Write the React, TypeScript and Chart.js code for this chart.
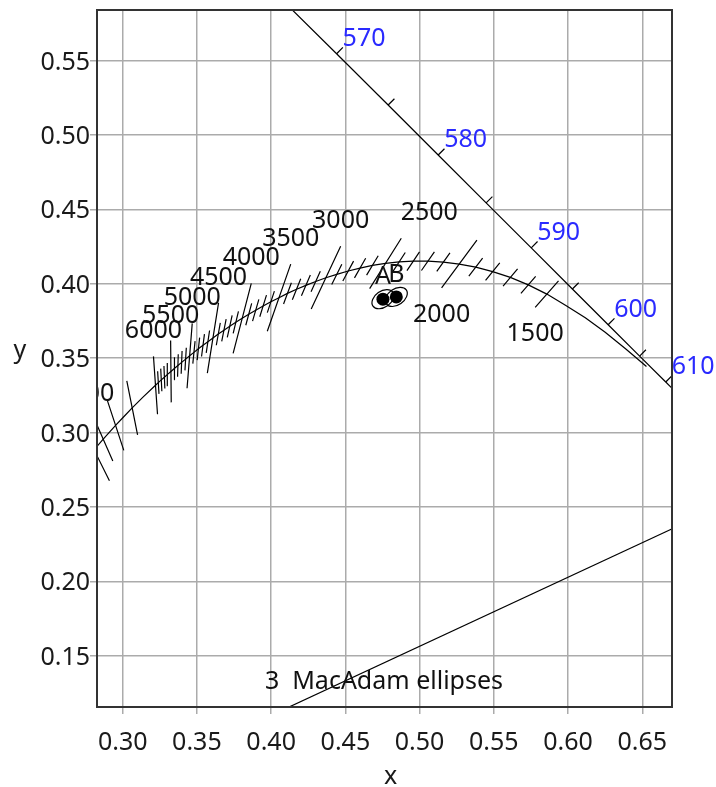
import React, { useEffect, useRef } from 'react';
import { Chart, registerables } from 'chart.js';

Chart.register(...registerables);

// ---------- axis ranges ----------
const X_MIN = 0.2827;
const X_MAX = 0.67;
const Y_MIN = 0.1155;
const Y_MAX = 0.5841;

// ---------- spectral locus (CIE 1931) ----------
const SPECTRAL_NM = [555, 560, 565, 570, 575, 580, 585, 590, 595, 600, 605, 610, 615, 620];
const SPECTRAL_X = [0.3373, 0.3731, 0.4087, 0.4441, 0.4788, 0.5125, 0.5448, 0.5752, 0.6029, 0.6270, 0.6482, 0.6658, 0.6801, 0.6915];
const SPECTRAL_Y = [0.6589, 0.6245, 0.5896, 0.5547, 0.5202, 0.4866, 0.4544, 0.4242, 0.3965, 0.3725, 0.3514, 0.3340, 0.3197, 0.3083];
const TICK_NM = [570, 575, 580, 585, 590, 595, 600, 605, 610];
const LABEL_NM = [570, 580, 590, 600, 610];

// line of purples end points
const PURPLE_X = [0.1741, 0.7347];
const PURPLE_Y = [0.0050, 0.2653];

// ---------- Planckian locus ----------
const PLANCK_T = [1000, 1100, 1200, 1300, 1400, 1500, 1600, 1700, 1800, 1900, 2000, 2100, 2200, 2300, 2400, 2500, 2600, 2700, 2800, 2900, 3000, 3100, 3200, 3300, 3400, 3500, 3600, 3700, 3800, 3900, 4000, 4100, 4200, 4300, 4400, 4500, 4600, 4700, 4800, 4900, 5000, 5100, 5200, 5300, 5400, 5500, 5600, 5700, 5800, 5900, 6000, 6500, 7000, 7500, 8000, 9000, 10000];
const PLANCK_X = [0.6528, 0.6387, 0.6250, 0.6116, 0.5985, 0.5857, 0.5732, 0.5611, 0.5492, 0.5378, 0.5267, 0.5160, 0.5056, 0.4957, 0.4862, 0.4770, 0.4682, 0.4599, 0.4519, 0.4442, 0.4369, 0.4300, 0.4234, 0.4171, 0.4110, 0.4053, 0.3998, 0.3946, 0.3896, 0.3849, 0.3805, 0.3762, 0.3721, 0.3682, 0.3644, 0.3608, 0.3574, 0.3541, 0.3510, 0.3480, 0.3451, 0.3424, 0.3397, 0.3372, 0.3348, 0.3325, 0.3302, 0.3281, 0.3260, 0.3240, 0.3221, 0.3135, 0.3064, 0.3004, 0.2952, 0.2869, 0.2807];
const PLANCK_Y = [0.3444, 0.3563, 0.3674, 0.3772, 0.3855, 0.3931, 0.3993, 0.4043, 0.4082, 0.4112, 0.4133, 0.4146, 0.4152, 0.4152, 0.4147, 0.4137, 0.4124, 0.4106, 0.4086, 0.4064, 0.4041, 0.4016, 0.3990, 0.3964, 0.3936, 0.3907, 0.3879, 0.3851, 0.3822, 0.3795, 0.3768, 0.3741, 0.3714, 0.3688, 0.3662, 0.3636, 0.3611, 0.3587, 0.3563, 0.3539, 0.3516, 0.3494, 0.3472, 0.3451, 0.3431, 0.3411, 0.3391, 0.3372, 0.3354, 0.3336, 0.3318, 0.3237, 0.3166, 0.3103, 0.3048, 0.2956, 0.2884];

// ---------- isotherms ----------
const ISO_T = [1500, 1600, 1700, 1800, 1900, 2000, 2100, 2200, 2300, 2400, 2500, 2600, 2700, 2800, 2900, 3000, 3100, 3200, 3300, 3400, 3500, 3600, 3700, 3800, 3900, 4000, 4100, 4200, 4300, 4400, 4500, 4600, 4700, 4800, 4900, 5000, 5100, 5200, 5300, 5400, 5500, 5600, 5700, 5800, 5900, 6000, 7000, 8000, 9000, 10000];
// dx/dy of each isotherm (x change per unit y)
const ISO_SLOPE = [0.88, 0.86, 0.84, 0.81, 0.77, 0.74, 0.72, 0.70, 0.67, 0.65, 0.63, 0.60, 0.57, 0.54, 0.50, 0.47, 0.45, 0.43, 0.40, 0.37, 0.35, 0.33, 0.31, 0.29, 0.27, 0.26, 0.24, 0.22, 0.20, 0.18, 0.16, 0.15, 0.13, 0.11, 0.10, 0.08, 0.06, 0.04, 0.03, 0.01, -0.01, -0.02, -0.04, -0.05, -0.06, -0.07, -0.20, -0.33, -0.44, -0.50];
// half length of each isotherm in chromaticity units
const ISO_HALF = [
  0.0119, 0.0076, 0.0076, 0.0076, 0.0076,
  0.0200, 0.0076, 0.0076, 0.0076, 0.0076,
  0.0200, 0.0076, 0.0076, 0.0076, 0.0076,
  0.0233, 0.0076, 0.0076, 0.0076, 0.0076,
  0.0239, 0.0076, 0.0076, 0.0076, 0.0076,
  0.0243, 0.0076, 0.0076, 0.0076, 0.0076,
  0.0239, 0.0076, 0.0076, 0.0076, 0.0076,
  0.0219, 0.0076, 0.0076, 0.0076, 0.0076,
  0.0208, 0.0076, 0.0076, 0.0076, 0.0076,
  0.0195, 0.0185, 0.0177, 0.0160, 0.0232,
];
const LABEL_T = [1500, 2000, 2500, 3000, 3500, 4000, 4500, 5000, 5500, 6000, 10000];

// ---------- MacAdam ellipses & sources ----------
const SOURCE_NAMES = ['A', 'B'];
const SOURCE_X = [0.4753, 0.4843];
const SOURCE_Y = [0.3897, 0.3912];
const ELLIPSE_A = [0.0082, 0.0082];
const ELLIPSE_B = [0.0054, 0.0054];
const ELLIPSE_ANGLE = [35, 35];
const NOTE = '3  MacAdam ellipses';

const FONT = '25px "Noto Sans", "Open Sans", sans-serif';
const BLUE = '#2a2aff';
const INK = '#111';

export default function App() {
  const ref = useRef<HTMLCanvasElement | null>(null);

  useEffect(() => {
    const canvas = ref.current;
    if (!canvas) return;

    const spectral = SPECTRAL_NM.map((_, i) => ({ x: SPECTRAL_X[i], y: SPECTRAL_Y[i] }));
    const purple = PURPLE_X.map((v, i) => ({ x: v, y: PURPLE_Y[i] }));
    const planck = PLANCK_T.map((_, i) => ({ x: PLANCK_X[i], y: PLANCK_Y[i] }));

    const segs = ISO_T.map((t, i) => {
      const k = PLANCK_T.indexOf(t);
      const cx = PLANCK_X[k];
      const cy = PLANCK_Y[k];
      const s = ISO_SLOPE[i];
      const n = Math.hypot(s, 1);
      const h = ISO_HALF[i];
      const dx = (s / n) * h;
      const dy = (1 / n) * h;
      return { t, top: { x: cx + dx, y: cy + dy }, bottom: { x: cx - dx, y: cy - dy } };
    });
    const isoData: any[] = [];
    segs.forEach((sg) => {
      isoData.push(sg.bottom, sg.top, { x: null, y: null });
    });

    // spectral locus ticks (outward normals)
    const tickLen = 0.006;
    const tickData: any[] = [];
    TICK_NM.forEach((nm) => {
      const i = SPECTRAL_NM.indexOf(nm);
      const dx = SPECTRAL_X[i + 1] - SPECTRAL_X[i - 1];
      const dy = SPECTRAL_Y[i + 1] - SPECTRAL_Y[i - 1];
      let nx = -dy;
      let ny = dx;
      const l = Math.hypot(nx, ny);
      nx /= l;
      ny /= l;
      if (nx + ny < 0) {
        nx = -nx;
        ny = -ny;
      }
      tickData.push(
        { x: SPECTRAL_X[i], y: SPECTRAL_Y[i] },
        { x: SPECTRAL_X[i] + nx * tickLen, y: SPECTRAL_Y[i] + ny * tickLen },
        { x: null, y: null }
      );
    });

    const sources = SOURCE_X.map((v, i) => ({ x: v, y: SOURCE_Y[i] }));

    const overlay = {
      id: 'overlay',
      afterDatasetsDraw(chart: any) {
        const { ctx, chartArea: ca, scales } = chart;
        const xs = scales.x;
        const ys = scales.y;
        const px = (v: number) => xs.getPixelForValue(v);
        const py = (v: number) => ys.getPixelForValue(v);
        const put = (s: string, x: number, y: number, align: CanvasTextAlign, color: string) => {
          ctx.fillStyle = color;
          ctx.textAlign = align;
          ctx.textBaseline = 'alphabetic';
          ctx.fillText(s, x, y);
        };
        ctx.save();
        ctx.font = FONT;
        ctx.beginPath();
        ctx.rect(ca.left, ca.top, ca.right - ca.left, ca.bottom - ca.top);
        ctx.clip();

        // ellipses
        const sx = Math.abs(px(1) - px(0));
        const sy = Math.abs(py(0) - py(1));
        ctx.strokeStyle = '#000';
        ctx.lineWidth = 1.2;
        SOURCE_X.forEach((ex, i) => {
          ctx.beginPath();
          ctx.ellipse(px(ex), py(SOURCE_Y[i]), ELLIPSE_A[i] * sx, ELLIPSE_B[i] * sy, (-ELLIPSE_ANGLE[i] * Math.PI) / 180, 0, Math.PI * 2);
          ctx.stroke();
        });

        // isotherm labels
        LABEL_T.forEach((t) => {
          const sg = segs.find((s) => s.t === t)!;
          if (t <= 2000) {
            put(String(t), px(sg.bottom.x), py(sg.bottom.y) + 34, 'center', INK);
          } else {
            const shift = t === 2500 ? 28 : 0;
            put(String(t), px(sg.top.x) + shift, py(sg.top.y) - 18, 'center', INK);
          }
        });

        // source labels
        SOURCE_NAMES.forEach((n, i) => {
          put(n, px(SOURCE_X[i]), py(SOURCE_Y[i]) - 15, 'center', INK);
        });

        // note
        put(NOTE, px(SOURCE_X[0]) + 1, ca.bottom - 18, 'center', INK);
        ctx.restore();

        ctx.save();
        ctx.font = FONT;
        // wavelength labels
        LABEL_NM.forEach((nm) => {
          const i = SPECTRAL_NM.indexOf(nm);
          put(String(nm), px(SPECTRAL_X[i]) + 6, py(SPECTRAL_Y[i]) - 8, 'left', BLUE);
        });

        // tick labels
        xs.ticks.forEach((tk: any) => {
          put(tk.value.toFixed(2), px(tk.value), ca.bottom + 42.5, 'center', '#1a1a1a');
        });
        ys.ticks.forEach((tk: any) => {
          put(tk.value.toFixed(2), ca.left - 7, py(tk.value) + 9, 'right', '#1a1a1a');
        });
        // axis titles
        put('x', (ca.left + ca.right) / 2 + 6, 784, 'center', '#1a1a1a');
        put('y', 20, (ca.top + ca.bottom) / 2 - 1, 'center', '#1a1a1a');

        // frame
        ctx.strokeStyle = '#333';
        ctx.lineWidth = 2;
        ctx.strokeRect(ca.left, ca.top, ca.right - ca.left, ca.bottom - ca.top);
        ctx.restore();
      },
    };

    const lineDs = (data: any[], width = 1.2) => ({
      data,
      showLine: true,
      borderColor: '#000',
      borderWidth: width,
      pointRadius: 0,
      tension: 0,
      spanGaps: false,
      fill: false,
    });

    const grid = {
      color: '#ababab',
      lineWidth: 1.5,
      tickLength: 7,
      tickColor: '#ababab',
      drawTicks: true,
    };

    const chart = new Chart(canvas, {
      type: 'scatter',
      data: {
        datasets: [
          lineDs(spectral) as any,
          lineDs(tickData) as any,
          lineDs(purple) as any,
          lineDs(planck) as any,
          lineDs(isoData) as any,
          {
            data: sources,
            showLine: false,
            pointRadius: 6.5,
            pointBackgroundColor: '#000',
            pointBorderWidth: 0,
          } as any,
        ],
      },
      options: {
        responsive: false,
        maintainAspectRatio: false,
        animation: false,
        events: [],
        layout: { padding: { left: 0, right: 44, top: 10, bottom: 0 } },
        plugins: { legend: { display: false }, tooltip: { enabled: false } },
        scales: {
          x: {
            type: 'linear',
            min: X_MIN,
            max: X_MAX,
            afterFit: (s: any) => {
              s.height = 80;
            },
            ticks: { display: false, stepSize: 0.05, includeBounds: false, autoSkip: false } as any,
            grid: grid as any,
            border: { display: false },
          },
          y: {
            type: 'linear',
            min: Y_MIN,
            max: Y_MAX,
            afterFit: (s: any) => {
              s.width = 97;
            },
            ticks: { display: false, stepSize: 0.05, includeBounds: false, autoSkip: false } as any,
            grid: grid as any,
            border: { display: false },
          },
        },
      },
      plugins: [overlay],
    });

    return () => chart.destroy();
  }, []);

  return (
    <div style={{ position: 'fixed', left: 0, top: 0, width: 716, height: 787, background: '#fff' }}>
      <canvas ref={ref} width={716} height={787} style={{ display: 'block' }} />
    </div>
  );
}
